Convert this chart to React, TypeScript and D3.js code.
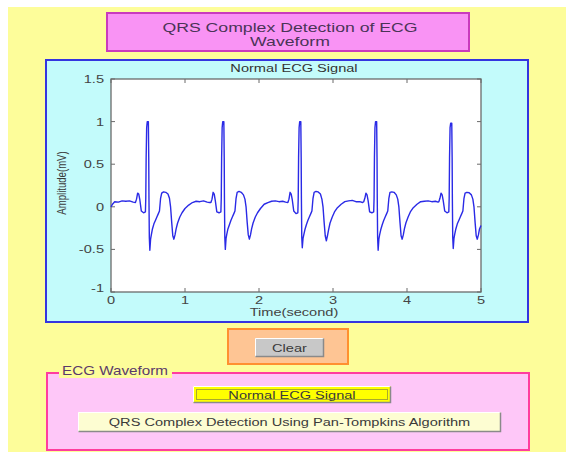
import React from 'react'
import { scaleLinear, line } from 'd3'

// ECG trace (time in s, amplitude in mV)
const ecgTime = [
  0, 0.02, 0.05, 0.1, 0.15, 0.2, 0.25, 0.3,
  0.33, 0.345, 0.36, 0.375, 0.39, 0.41, 0.44, 0.465, 0.47, 0.475, 0.482, 0.49, 0.505, 0.51, 0.513, 0.518, 0.525, 0.535, 0.545, 0.56, 0.58, 0.6, 0.62, 0.64, 0.655, 0.67, 0.685, 0.71, 0.74, 0.77, 0.79, 0.805, 0.82, 0.835, 0.85, 0.865, 0.88, 0.9, 0.93, 0.96, 1.0, 1.05, 1.1, 1.15, 1.2, 1.25, 1.3, 1.33,
  1.35, 1.365, 1.38, 1.395, 1.41, 1.43, 1.46, 1.485, 1.49, 1.495, 1.502, 1.51, 1.525, 1.53, 1.533, 1.538, 1.545, 1.555, 1.565, 1.58, 1.6, 1.62, 1.64, 1.66, 1.675, 1.69, 1.705, 1.73, 1.76, 1.79, 1.81, 1.825, 1.84, 1.855, 1.87, 1.885, 1.9, 1.92, 1.95, 1.98, 2.02, 2.07, 2.12, 2.17, 2.22, 2.27, 2.32, 2.36,
  2.39, 2.405, 2.42, 2.435, 2.45, 2.47, 2.5, 2.525, 2.53, 2.535, 2.542, 2.55, 2.565, 2.57, 2.573, 2.578, 2.585, 2.595, 2.605, 2.62, 2.64, 2.66, 2.68, 2.7, 2.715, 2.73, 2.745, 2.77, 2.8, 2.83, 2.85, 2.865, 2.88, 2.895, 2.91, 2.925, 2.94, 2.96, 2.99, 3.02, 3.06, 3.11, 3.16, 3.21, 3.26, 3.31, 3.36, 3.4,
  3.415, 3.43, 3.445, 3.46, 3.475, 3.495, 3.525, 3.55, 3.555, 3.56, 3.567, 3.575, 3.59, 3.595, 3.598, 3.603, 3.61, 3.62, 3.63, 3.645, 3.665, 3.685, 3.705, 3.725, 3.74, 3.755, 3.77, 3.795, 3.825, 3.855, 3.875, 3.89, 3.905, 3.92, 3.935, 3.95, 3.965, 3.985, 4.015, 4.045, 4.085, 4.135, 4.185, 4.235, 4.285, 4.335, 4.385, 4.42,
  4.43, 4.445, 4.46, 4.475, 4.49, 4.51, 4.54, 4.565, 4.57, 4.575, 4.582, 4.59, 4.605, 4.61, 4.613, 4.618, 4.625, 4.635, 4.645, 4.66, 4.68, 4.7, 4.72, 4.74, 4.755, 4.77, 4.785, 4.81, 4.84, 4.87, 4.89, 4.905, 4.92, 4.935, 4.95, 4.965, 4.98, 5.0
]
const ecgAmp = [
  0.0, 0.03, 0.06, 0.055, 0.07, 0.065, 0.07, 0.055,
  0.05, 0.09, 0.16, 0.15, 0.08, -0.05, -0.07, -0.06, 0.1, 0.58, 0.93, 1.0, 1.0, 0.58, 0.1, -0.36, -0.51, -0.38, -0.33, -0.26, -0.2, -0.16, -0.12, -0.08, -0.05, 0.1, 0.16, 0.175, 0.17, 0.15, 0.1, 0.0, -0.18, -0.34, -0.38, -0.33, -0.26, -0.19, -0.12, -0.07, -0.02, 0.02, 0.05, 0.065, 0.06, 0.07, 0.055, 0.05,
  0.05, 0.09, 0.17, 0.15, 0.07, -0.06, -0.07, -0.06, 0.1, 0.58, 0.93, 1.0, 1.0, 0.58, 0.1, -0.36, -0.5, -0.37, -0.32, -0.26, -0.21, -0.16, -0.12, -0.08, -0.05, 0.1, 0.17, 0.18, 0.17, 0.14, 0.09, 0.0, -0.18, -0.33, -0.38, -0.33, -0.26, -0.19, -0.12, -0.07, -0.02, 0.03, 0.05, 0.065, 0.07, 0.06, 0.065, 0.055,
  0.05, 0.09, 0.17, 0.15, 0.08, -0.05, -0.08, -0.07, 0.1, 0.58, 0.93, 1.0, 1.0, 0.58, 0.1, -0.36, -0.48, -0.37, -0.33, -0.27, -0.21, -0.16, -0.12, -0.08, -0.05, 0.1, 0.17, 0.18, 0.175, 0.15, 0.09, 0.0, -0.18, -0.34, -0.4, -0.34, -0.27, -0.19, -0.12, -0.06, -0.01, 0.03, 0.06, 0.07, 0.075, 0.06, 0.06, 0.05,
  0.06, 0.1, 0.16, 0.14, 0.07, -0.06, -0.07, -0.06, 0.1, 0.58, 0.93, 1.0, 1.0, 0.58, 0.1, -0.36, -0.51, -0.38, -0.33, -0.27, -0.21, -0.16, -0.12, -0.08, -0.05, 0.1, 0.17, 0.175, 0.17, 0.14, 0.09, 0.0, -0.18, -0.34, -0.38, -0.33, -0.26, -0.19, -0.12, -0.06, -0.01, 0.03, 0.06, 0.065, 0.07, 0.06, 0.065, 0.055,
  0.06, 0.1, 0.16, 0.14, 0.07, -0.05, -0.07, -0.06, 0.1, 0.58, 0.93, 0.98, 0.98, 0.58, 0.1, -0.36, -0.49, -0.37, -0.32, -0.26, -0.2, -0.16, -0.12, -0.08, -0.05, 0.1, 0.16, 0.17, 0.165, 0.14, 0.09, 0.0, -0.18, -0.34, -0.38, -0.33, -0.26, -0.22
]

const xTicks = [0, 1, 2, 3, 4, 5]
const yTicks = [-1, -0.5, 0, 0.5, 1, 1.5]
const titleLines = ['QRS Complex Detection of ECG', 'Waveform']

const FONT = 'Arial, "Liberation Sans", Helvetica, sans-serif'
const SX = 1.27 // the GUI text is rendered stretched sideways

// plot box in page pixels
const left = 111, right = 481, top = 79, bottom = 292

// text stretched horizontally around its anchor
function ST ({ x, y, size, fill, anchor = 'middle', sx = SX, children }: any) {
  return (
    <g transform={`translate(${x},${y}) scale(${sx},1)`}>
      <text x={0} y={0} textAnchor={anchor} fontSize={size} fill={fill} fontFamily={FONT}>{children}</text>
    </g>
  )
}

function Button3D ({ x, y, w, h, fill, label, focus }: any) {
  return (
    <g>
      <rect x={x} y={y} width={w} height={h} fill={fill} />
      <path d={`M${x + 0.5},${y + h - 0.5} L${x + 0.5},${y + 0.5} L${x + w - 0.5},${y + 0.5}`} stroke="#ffffff" fill="none" />
      <path d={`M${x + 0.5},${y + h - 0.5} L${x + w - 0.5},${y + h - 0.5} L${x + w - 0.5},${y + 0.5}`} stroke="#8a8a8a" strokeWidth={1.5} fill="none" />
      {focus && <rect x={x + 3.5} y={y + 3.5} width={w - 7} height={h - 7} fill="none" stroke="#555" strokeDasharray="1,1" />}
      <ST x={x + w / 2} y={y + h / 2 + 4} size={11.5} fill="#3a3a3a">{label}</ST>
    </g>
  )
}

export default function App () {
  const x = scaleLinear().domain([0, 5]).range([left, right])
  const y = scaleLinear().domain([-1, 1.5]).range([bottom, top])
  const path = line<number>().x((d, i) => x(ecgTime[i])).y(d => y(d))(ecgAmp) || ''

  return (
    <svg width={566} height={452} style={{ position: 'absolute', left: 0, top: 0 }} fontFamily={FONT}>
      <rect x={0} y={0} width={566} height={452} fill="#ffffff" />
      <rect x={8} y={7} width={558} height={445} fill="#fdfd9a" />

      {/* title box */}
      <rect x={107} y={13} width={362} height={38} fill="#f993f4" stroke="#c93bbd" strokeWidth={2} />
      {titleLines.map((t, i) => (
        <ST key={t} x={290} y={31.5 + i * 14} size={13} sx={1.36} fill="#4a3457">{t}</ST>
      ))}

      {/* axes panel */}
      <rect x={46} y={60} width={482} height={262} fill="#c3fbfb" stroke="#3434e0" strokeWidth={2} />
      <rect x={left} y={top} width={right - left} height={bottom - top} fill="#ffffff" stroke="#6a6a6a" strokeWidth={1.3} />
      <ST x={(left + right) / 2 - 2} y={72} size={11.5} fill="#333">Normal ECG Signal</ST>

      {xTicks.map(t => (
        <g key={'x' + t}>
          <line x1={x(t)} x2={x(t)} y1={bottom} y2={bottom - 4} stroke="#6a6a6a" />
          <line x1={x(t)} x2={x(t)} y1={top} y2={top + 4} stroke="#6a6a6a" />
          <ST x={x(t)} y={304} size={11.5} fill="#444">{t}</ST>
        </g>
      ))}
      {yTicks.map(t => (
        <g key={'y' + t}>
          <line x1={left} x2={left + 4} y1={y(t)} y2={y(t)} stroke="#6a6a6a" />
          <line x1={right} x2={right - 4} y1={y(t)} y2={y(t)} stroke="#6a6a6a" />
          <ST x={104} y={y(t) + (t === -1 ? 0 : 4)} size={11.5} fill="#444" anchor="end">{t}</ST>
        </g>
      ))}
      <ST x={(left + right) / 2 - 2} y={316} size={11.5} fill="#444">Time(second)</ST>
      <g transform={`translate(66,183) rotate(-90) scale(0.8,1.1)`}>
        <text x={0} y={0} textAnchor="middle" fontSize={12} fontFamily={FONT} fill="#3a3a3a">Amplitude(mV)</text>
      </g>

      <path d={path} fill="none" stroke="#2a2ae6" strokeWidth={1.4} strokeLinejoin="round" />

      {/* clear button */}
      <rect x={228} y={329} width={120} height={35} fill="#fec594" stroke="#ff9030" strokeWidth={2} />
      <Button3D x={255} y={338} w={69} h={19} fill="#c8c8c8" label="Clear" />

      {/* ECG waveform group */}
      <rect x={47} y={373} width={482} height={77} fill="#fec7f8" stroke="#ff3d9e" strokeWidth={2} />
      <rect x={59} y={364} width={113} height={14} fill="#fdfd9a" />
      <ST x={62} y={375} size={12} fill="#5a3a6a" anchor="start">ECG Waveform</ST>
      <Button3D x={193} y={386} w={198} h={17} fill="#ffff00" label="Normal ECG Signal" focus />
      <Button3D x={78} y={412} w={423} h={20} fill="#fdfdd2" label="QRS Complex Detection Using Pan-Tompkins Algorithm" />
    </svg>
  )
}
